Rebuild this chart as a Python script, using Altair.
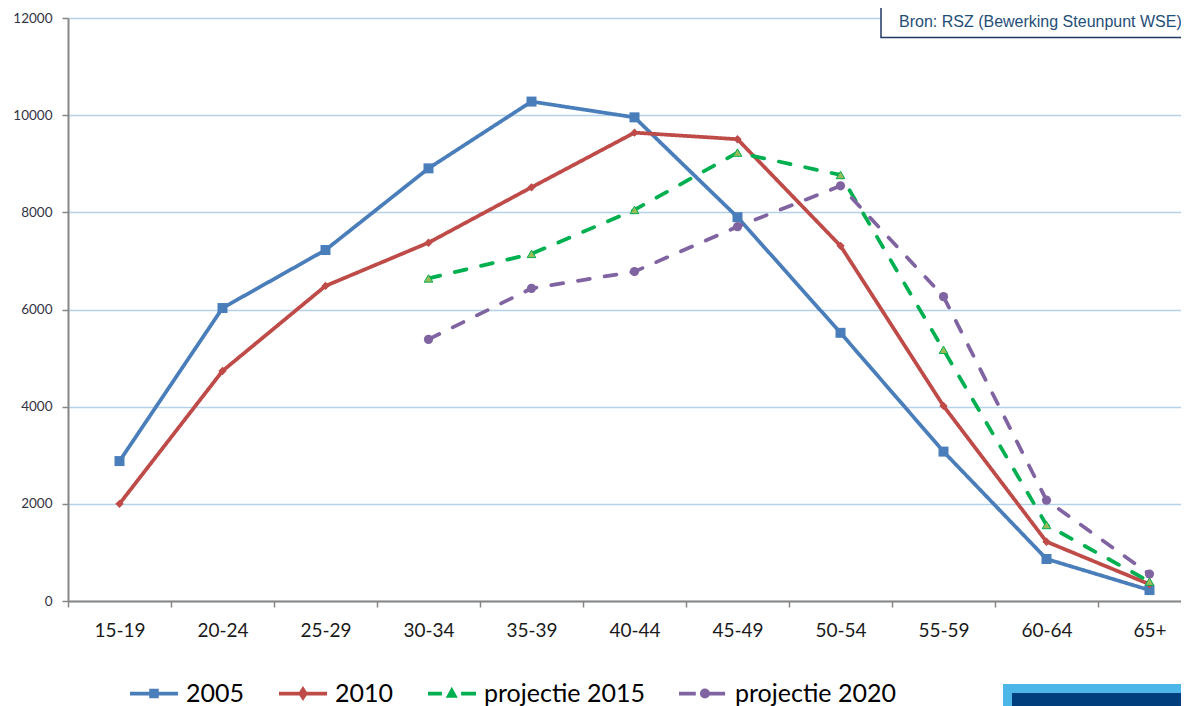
import altair as alt
import pandas as pd

# ---------------- data ----------------
ages = ["15-19", "20-24", "25-29", "30-34", "35-39", "40-44",
        "45-49", "50-54", "55-59", "60-64", "65+"]
v2005 = [2880, 6030, 7225, 8905, 10280, 9955, 7900, 5520, 3075, 865, 225]
v2010 = [2000, 4735, 6485, 7375, 8515, 9640, 9505, 7310, 4015, 1220, 345]
p2015 = [None, None, None, 6640, 7145, 8050, 9230, 8770, 5170, 1565, 400]
p2020 = [None, None, None, 5385, 6435, 6780, 7705, 8545, 6265, 2075, 555]
series_names = ["2005", "2010", "projectie 2015", "projectie 2020"]
y_ticks = [0, 2000, 4000, 6000, 8000, 10000, 12000]
source_text = ["Bron: RSZ (Bewerking Steunpunt WSE)"]

# ---------------- styles ----------------
styles = {
    "2005": dict(color="#4A7EBB", dash=[1, 0], shape="square", size=100,
                 fill="#4A7EBB", stroke="#4A7EBB", sw=0,
                 path="M-1,0H1M-0.12,-0.12H0.12V0.12H-0.12Z"),
    "2010": dict(color="#BE4B48", dash=[1, 0], shape="diamond", size=70,
                 fill="#BE4B48", stroke="#BE4B48", sw=0,
                 path="M-1,0H1M0,-0.17L0.11,0L0,0.17L-0.11,0Z"),
    "projectie 2015": dict(color="#00B050", dash=[12, 15], shape="triangle-up", size=75,
                           fill="#9BBB59", stroke="#00B050", sw=1,
                           path="M-1,0H-0.42M0.38,0H1M-0.13,0.1L0.11,0.1L-0.01,-0.12Z"),
    "projectie 2020": dict(color="#8064A2", dash=[12, 15], shape="circle", size=85,
                           fill="#8064A2", stroke="#8064A2", sw=0,
                           path="M-1,0H-0.3M0.08,0H0.92M-0.05,0A0.13,0.13 0 1,0 0.21,0A0.13,0.13 0 1,0 -0.05,0Z"),
}

rows = []
for name, vals in zip(series_names, [v2005, v2010, p2015, p2020]):
    for a, v in zip(ages, vals):
        if v is not None:
            rows.append({"age": a, "series": name, "value": v})
df = pd.DataFrame(rows)

PLOT_W = 1113
PLOT_H = 583
X_RANGE = 1133

x_enc = alt.X(
    "age:N", sort=ages,
    scale=alt.Scale(type="band", domain=ages, paddingInner=0, paddingOuter=0,
                    range=[0, X_RANGE]),
    axis=alt.Axis(title=None, labelAngle=0, tickBand="extent", grid=False,
                  domainColor="#868686", domainWidth=2, tickColor="#868686",
                  tickWidth=1.5, tickSize=6, labelFont="Lato", labelFontSize=19,
                  labelColor="#1a1a1a", labelPadding=14),
)
y_enc = alt.Y(
    "value:Q",
    scale=alt.Scale(domain=[0, 12000], nice=False),
    axis=alt.Axis(title=None, values=y_ticks, grid=True, gridColor="#B4D3EA",
                  gridWidth=1.5, domainColor="#868686", domainWidth=2,
                  tickColor="#868686", tickWidth=1.5, tickSize=6, labelFont="Lato",
                  labelFontSize=13.5, labelColor="#333344", labelPadding=10,
                  format="d"),
)

layers = []
for name in series_names:
    st = styles[name]
    sub = alt.Chart(df).transform_filter(alt.datum.series == name)
    line = sub.mark_line(color=st["color"], strokeWidth=3.75, strokeDash=st["dash"],
                         strokeJoin="round",
                         strokeCap="round" if st["dash"] != [1, 0] else "butt").encode(
        x=x_enc, y=y_enc)
    pts = sub.mark_point(shape=st["shape"], size=st["size"], filled=True, opacity=1,
                         fill=st["fill"], stroke=st["stroke"],
                         strokeWidth=st["sw"]).encode(x=x_enc, y=y_enc)
    layers += [line, pts]

legend_kw = dict(orient="none", legendX=60, legendY=649.5, direction="horizontal",
                 title=None, symbolSize=2304, symbolStrokeWidth=3.75,
                 labelFont="Lato", labelFontSize=25, labelColor="#000000",
                 labelOffset=6, columnPadding=26, padding=0, labelLimit=0)

legend_layer = alt.Chart(df).transform_filter("false").mark_point(
    filled=True, opacity=1).encode(
    shape=alt.Shape("series:N", scale=alt.Scale(
        domain=series_names, range=[styles[s]["path"] for s in series_names]),
        legend=alt.Legend(**legend_kw)),
    fill=alt.Fill("series:N", scale=alt.Scale(
        domain=series_names, range=[styles[s]["fill"] for s in series_names]),
        legend=alt.Legend(**legend_kw)),
    stroke=alt.Stroke("series:N", scale=alt.Scale(
        domain=series_names, range=[styles[s]["color"] for s in series_names]),
        legend=alt.Legend(**legend_kw)),
)

src = pd.DataFrame({"t": source_text})
box = alt.Chart(src).mark_rect(fill="white", stroke="#1F3864", strokeWidth=1.5).encode(
    x=alt.value(813), x2=alt.value(1140), y=alt.value(-14.5), y2=alt.value(19.5))
box_text = alt.Chart(src).mark_text(align="left", baseline="middle",
                                    font="Liberation Sans", fontSize=16,
                                    color="#1F4E79").encode(
    x=alt.value(831), y=alt.value(3.5), text="t:N")
bar_outer = alt.Chart(src).mark_rect(fill="#4DB6E8").encode(
    x=alt.value(935), x2=alt.value(1140), y=alt.value(666), y2=alt.value(720))
bar_inner = alt.Chart(src).mark_rect(fill="#003E7E").encode(
    x=alt.value(944), x2=alt.value(1140), y=alt.value(675), y2=alt.value(720))

chart = alt.layer(*layers, legend_layer, box, box_text, bar_outer, bar_inner).properties(
    width=PLOT_W, height=PLOT_H,
    padding={"left": 60, "top": 10, "right": 0, "bottom": 105},
    autosize=alt.AutoSizeParams(type="none"),
).configure_view(stroke=None)

chart.save("out.html", embed_options={"renderer": "svg", "actions": False})
